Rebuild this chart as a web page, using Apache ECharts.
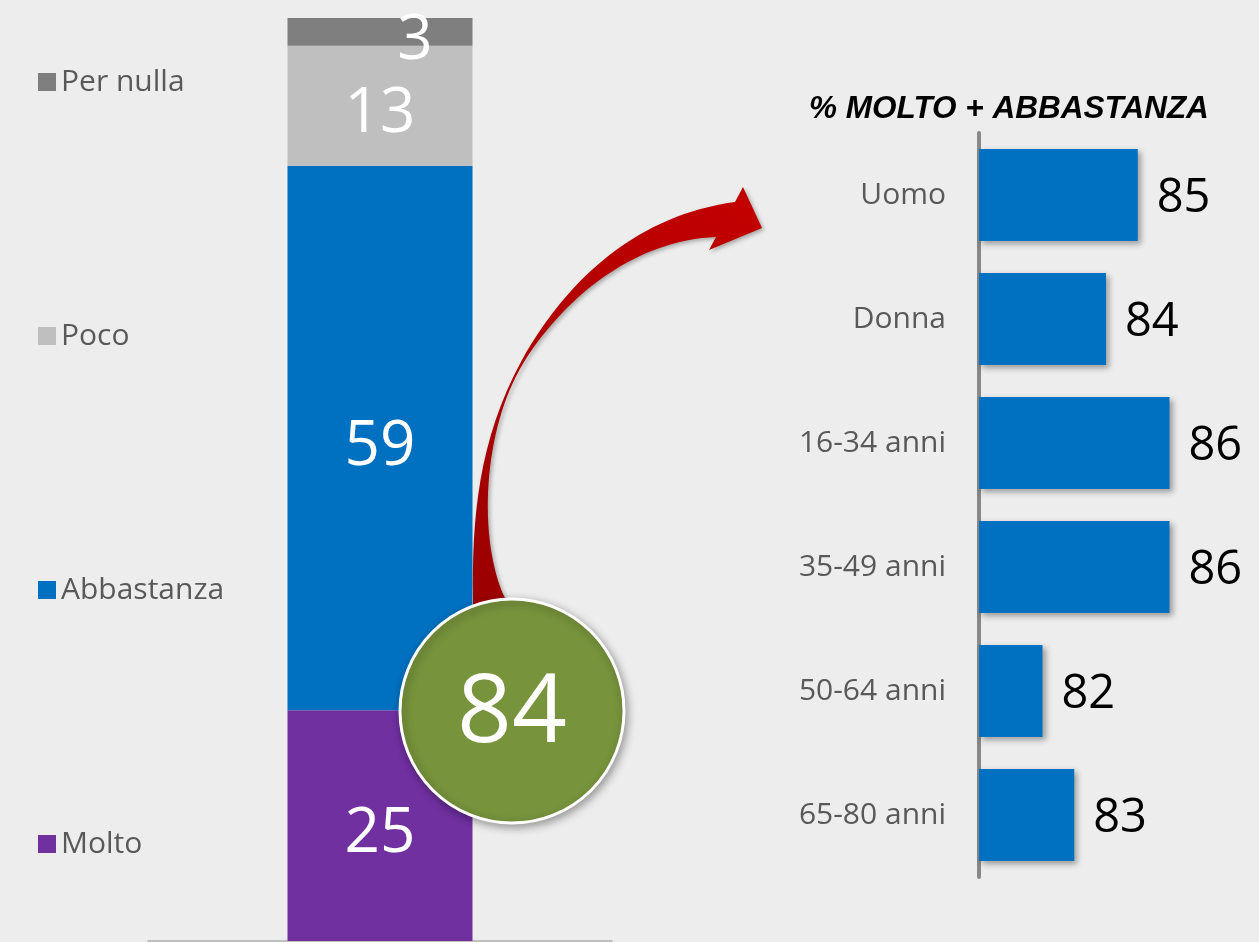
<!DOCTYPE html>
<html>
<head>
<meta charset="utf-8">
<script src="https://cdn.jsdelivr.net/npm/echarts@6/dist/echarts.min.js"></script>
<style>
  html, body { margin: 0; padding: 0; background: #ededed; }
  #chart { width: 1259px; height: 942px; }
</style>
</head>
<body>
<div id="chart"></div>
<script>
  // quota totale (barra impilata)
  const stackNames = ['Molto', 'Abbastanza', 'Poco', 'Per nulla'];
  const stackValues = [25, 59, 13, 3];
  const stackColors = ['#7030a0', '#0070c0', '#bfbfbf', '#7f7f7f'];

  // % molto + abbastanza per gruppo
  const groupNames = ['Uomo', 'Donna', '16-34 anni', '35-49 anni', '50-64 anni', '65-80 anni'];
  const groupValues = [85, 84, 86, 86, 82, 83];

  const totalPositive = stackValues[0] + stackValues[1];

  const chart = echarts.init(document.getElementById('chart'));
  const font = '"Open Sans", "Noto Sans", sans-serif';

  // serie impilate
  const stackSeries = stackNames.map((name, i) => ({
    name: name,
    type: 'bar',
    stack: 'tot',
    xAxisIndex: 0,
    yAxisIndex: 0,
    barWidth: 185,
    itemStyle: { color: stackColors[i] },
    label: {
      show: true,
      position: 'inside',
      offset: name === 'Per nulla' ? [35, 9] : [0, 9],
      color: '#fff',
      fontFamily: font,
      fontSize: 62
    },
    data: [stackValues[i]]
  }));

  // freccia curva (decorazione)
  const arrowPath = 'M 473 640 L 473 598 C 472 520, 478 440, 522 360 C 570 275, 640 215, 735 202 ' +
                    'L 743 187 L 762 228 L 709 250 L 716 237 ' +
                    'C 640 240, 570 290, 524 362 C 482 430, 478 540, 505 598 L 505 640 Z';

  let option = {
    backgroundColor: '#ededed',
    animation: false,
    title: {
      text: '% MOLTO + ABBASTANZA',
      left: 804,
      top: 88,
      textStyle: {
        fontFamily: '"Liberation Sans", Arial, sans-serif',
        fontStyle: 'italic',
        fontWeight: 'bold',
        fontSize: 31.5,
        color: '#000'
      }
    },
    legend: {
      orient: 'vertical',
      left: 33,
      top: 62,
      icon: 'rect',
      itemWidth: 18,
      itemHeight: 18,
      itemGap: 224,
      data: stackNames.slice().reverse(),
      textStyle: { fontFamily: font, fontSize: 30, lineHeight: 30, color: '#595959' }
    },
    grid: [
      { left: 148, width: 464, top: 18, bottom: 1 },
      { left: 979, right: 26, top: 133, height: 744 }
    ],
    xAxis: [
      {
        gridIndex: 0,
        type: 'category',
        data: [''],
        axisLine: { lineStyle: { color: '#bfbfbf', width: 2 } },
        axisTick: { show: false },
        axisLabel: { show: false }
      },
      {
        gridIndex: 1,
        type: 'value',
        min: 80,
        max: 88,
        show: false
      }
    ],
    yAxis: [
      {
        gridIndex: 0,
        type: 'value',
        min: 0,
        max: 100,
        show: false
      },
      {
        gridIndex: 1,
        type: 'category',
        inverse: true,
        data: groupNames,
        axisLine: { show: true, lineStyle: { color: '#888', width: 4 } },
        axisTick: { show: false },
        axisLabel: { margin: 33, fontFamily: font, fontSize: 30, color: '#595959' }
      }
    ],
    series: stackSeries.concat([
      {
        name: 'gruppi',
        type: 'bar',
        xAxisIndex: 1,
        yAxisIndex: 1,
        barWidth: 92,
        itemStyle: {
          color: '#0070c0',
          shadowBlur: 6,
          shadowOffsetX: 3,
          shadowOffsetY: 3,
          shadowColor: 'rgba(0,0,0,0.35)'
        },
        label: {
          show: true,
          position: 'right',
          distance: 19,
          offset: [0, 4],
          color: '#000',
          fontFamily: font,
          fontSize: 47
        },
        data: groupValues
      },
      {
        name: 'freccia',
        type: 'custom',
        coordinateSystem: 'none',
        silent: true,
        z: 10,
        data: [0],
        renderItem: () => ({
          type: 'path',
          shape: { pathData: arrowPath },
          style: {
            fill: {
              type: 'linear', x: 0, y: 1, x2: 1, y2: 0,
              colorStops: [
                { offset: 0, color: '#980000' },
                { offset: 1, color: '#c40000' }
              ]
            },
            shadowBlur: 4,
            shadowOffsetX: 2,
            shadowOffsetY: 2,
            shadowColor: 'rgba(0,0,0,0.3)'
          }
        })
      }
    ]),
    graphic: [
      {
        type: 'circle',
        z: 100,
        shape: { cx: 512, cy: 711, r: 112 },
        style: {
          fill: '#77933c',
          stroke: '#fff',
          lineWidth: 3,
          shadowBlur: 8,
          shadowOffsetX: 2,
          shadowOffsetY: 3,
          shadowColor: 'rgba(0,0,0,0.35)'
        }
      },
      {
        type: 'text',
        z: 101,
        x: 512,
        y: 715,
        style: {
          text: String(totalPositive),
          fill: '#fff',
          fontFamily: font,
          fontSize: 96,
          align: 'center',
          verticalAlign: 'middle'
        }
      }
    ]
  };

  chart.setOption(option);
</script>
</body>
</html>
